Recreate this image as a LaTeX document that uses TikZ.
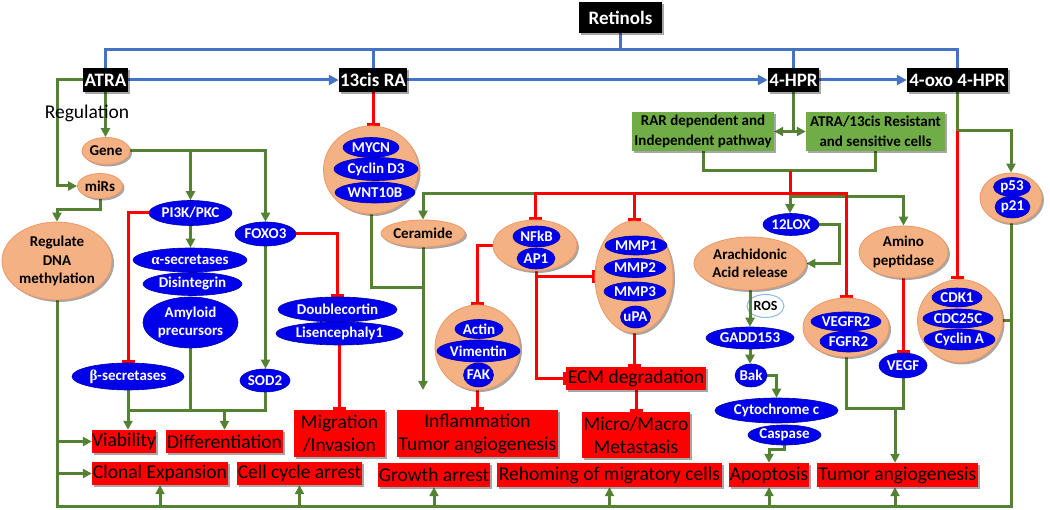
\documentclass[tikz,border=0pt]{standalone}
\usepackage{fontspec}
\setmainfont{Carlito}
\newfontfamily\grk{Liberation Serif}
\usetikzlibrary{arrows.meta,shapes.geometric,shadows}
\pgfdeclarelayer{bgw}
\pgfdeclarelayer{bg}
\pgfsetlayers{bgw,bg,main}
\definecolor{lb}{RGB}{68,114,196}
\definecolor{lg}{RGB}{84,130,53}
\definecolor{boxg}{RGB}{112,173,71}
\definecolor{salm}{RGB}{244,177,131}
\definecolor{salmd}{RGB}{238,152,102}
\definecolor{ovb}{RGB}{0,0,235}
\definecolor{ovbd}{RGB}{0,0,170}
\definecolor{rosb}{RGB}{140,185,225}
\definecolor{rr}{RGB}{255,0,0}
\newcommand\SOV[5]{\node[sov,minimum width=#3pt,minimum height=#4pt,label={[stx]center:{#5}}] (#1) at #2 {};}
\newcommand\BOV[5]{\node[bov,minimum width=#3pt,minimum height=#4pt,label={[btx]center:{#5}}] (#1) at #2 {};}
\tikzset{
  shad/.style={drop shadow={shadow xshift=2pt,shadow yshift=-2pt,opacity=0.35,fill=black}},
  blk/.style={rectangle,fill=black,text=white,font=\fontsize{19}{21}\selectfont\bfseries,inner sep=0pt,shad},
  gbx/.style={rectangle,fill=boxg,text=black,font=\fontsize{15}{20}\selectfont\bfseries,align=center,inner sep=0pt,shad},
  rbx/.style={rectangle,fill=rr,text=black,font=\fontsize{19.5}{23}\selectfont,align=center,inner sep=0pt,shad},
  sov/.style={ellipse,fill=salm,draw=salmd,line width=0.8pt,inner sep=0pt,shad},
  bov/.style={ellipse,fill=ovb,draw=ovbd,line width=0.6pt,inner sep=0pt},
  stx/.style={text=black,font=\fontsize{15}{18.5}\selectfont\bfseries,align=center},
  btx/.style={text=white,font=\fontsize{15}{18}\selectfont\bfseries,align=center},
  bl/.style={draw=lb,line width=3pt},
  gl/.style={draw=lg,line width=3pt},
  rl/.style={draw=rr,line width=3pt},
  ba/.style={-{Triangle[length=10pt,width=10pt]}},
  ga/.style={-{Triangle[length=9pt,width=9pt]}},
  rT/.style={-{Bar[width=13pt]}}
}
\begin{document}
\begin{tikzpicture}[x=1pt,y=-1pt]
\useasboundingbox (0,0) rectangle (1050,510);
\begin{pgfonlayer}{bgw}
\fill[white] (0,0) rectangle (1050,510);
\end{pgfonlayer}

% black boxes
\node[blk,minimum width=83pt,minimum height=31pt] (ret) at (620.5,17.5) {Retinols};
\node[blk,minimum width=45pt,minimum height=24pt] (atra) at (105.5,80) {ATRA};
\node[blk,minimum width=68pt,minimum height=24pt] (cis) at (373,80) {13cis RA};
\node[blk,minimum width=51pt,minimum height=24pt] (hpr) at (793.5,80) {4-HPR};
\node[blk,minimum width=101pt,minimum height=24pt] (oxo) at (957.5,80) {4-oxo 4-HPR};

% green boxes
\node[gbx,minimum width=142pt,minimum height=39pt] (rar) at (703,131.5) {RAR dependent and\\Independent pathway};
\node[gbx,minimum width=139pt,minimum height=39pt] (res) at (875.5,131.5) {ATRA/13cis Resistant\\and sensitive cells};

\node[font=\fontsize{19.5}{22}\selectfont,text=black] (reg) at (87,113) {Regulation};

% salmon ovals
\SOV{gene}{(106,151)}{48}{27}{Gene}
\SOV{mirs}{(100,186)}{45}{25}{miRs}
\SOV{regdna}{(57,261)}{110}{78}{Regulate\\DNA\\methylation}
\SOV{cisc}{(371,170)}{95}{88}{}
\SOV{cer}{(423,233.5)}{84}{27}{Ceramide}
\SOV{nfc}{(535,245.5)}{84}{51}{}
\SOV{actc}{(477.5,347.5)}{85}{85}{}
\SOV{mmpc}{(634,277)}{78}{112}{}
\SOV{arach}{(750,263.5)}{112}{53}{Arachidonic\\Acid release}
\SOV{amino}{(903.5,252)}{89}{52}{Amino\\peptidase}
\SOV{vegc}{(846,327.5)}{86}{59}{}
\SOV{cdkc}{(960,321)}{85}{83}{}
\SOV{p53c}{(1011,198)}{62}{50}{}

% blue ovals
\BOV{pi3k}{(190.5,213)}{83}{25}{PI3K/PKC}
\BOV{foxo}{(265.5,234)}{61}{24}{FOXO3}
\BOV{alpha}{(190,260)}{114}{24}{{\grk α}-secretases}
\BOV{disint}{(192.5,284)}{99}{23}{Disintegrin}
\BOV{amyl}{(190.5,322.5)}{95}{51}{Amyloid\\precursors}
\BOV{beta}{(128,376.5)}{112}{27}{{\grk β}-secretases}
\BOV{sod}{(265,380.5)}{50}{23}{SOD2}
\BOV{dcx}{(337.5,309.5)}{119}{25}{Doublecortin}
\BOV{lis}{(339.5,333.5)}{127}{23}{Lisencephaly1}
\BOV{mycn}{(371,147.5)}{56}{20}{MYCN}
\BOV{cyc}{(376,169)}{84}{23}{Cyclin D3}
\BOV{wnt}{(375,192.5)}{80}{21}{WNT10B}
\BOV{nfkb}{(536.5,236.5)}{47}{21}{NFkB}
\BOV{ap1}{(536,258.5)}{38}{21}{AP1}
\BOV{actin}{(479,329)}{48}{19}{Actin}
\BOV{vim}{(478.5,351)}{83}{22}{Vimentin}
\BOV{fak}{(478.5,375)}{30}{24}{FAK}
\BOV{mmp1}{(636,245.5)}{62}{19}{MMP1}
\BOV{mmp2}{(635,268)}{62}{19}{MMP2}
\BOV{mmp3}{(635,291.5)}{62}{19}{MMP3}
\BOV{upa}{(635.5,317)}{30}{22}{uPA}
\BOV{lox}{(791,224.5)}{56}{22}{12LOX}
\BOV{gadd}{(750,338)}{88}{22}{GADD153}
\BOV{bak}{(751,375.5)}{32}{23}{Bak}
\BOV{cyto}{(776.5,410.5)}{123}{25}{Cytochrome c}
\BOV{casp}{(784.5,435)}{73}{20}{Caspase}
\BOV{vegfr}{(846,321.5)}{70}{19}{VEGFR2}
\BOV{fgfr}{(848.5,341.5)}{57}{21}{FGFR2}
\BOV{vegf}{(903,365.5)}{48}{25}{VEGF}
\BOV{cdk1}{(957,297.5)}{50}{19}{CDK1}
\BOV{cdc}{(958,318.5)}{70}{19}{CDC25C}
\BOV{cyca}{(959.5,339.5)}{71}{21}{Cyclin A}
\BOV{p53}{(1012,187)}{37}{19}{p53}
\BOV{p21}{(1012.5,207)}{35}{22}{p21}

% red boxes
\node[rbx,minimum width=64pt,minimum height=23pt] (via) at (124,441.5) {Viability};
\node[rbx,minimum width=117pt,minimum height=23pt] (diff) at (224.5,441.5) {Differentiation};
\node[rbx,minimum width=91pt,minimum height=47pt] (mig) at (339.5,433.5) {Migration\\/Invasion};
\node[rbx,minimum width=161pt,minimum height=47pt] (infl) at (477.5,433.5) {Inflammation\\Tumor angiogenesis};
\node[rbx,minimum width=140pt,minimum height=23pt] (ecm) at (636,378.5) {ECM degradation};
\node[rbx,minimum width=108pt,minimum height=46pt] (micro) at (636,435) {Micro/Macro\\Metastasis};
\node[rbx,minimum width=136pt,minimum height=23pt] (clon) at (160,473.5) {Clonal Expansion};
\node[rbx,minimum width=125pt,minimum height=23pt] (cca) at (299.5,473.5) {Cell cycle arrest};
\node[rbx,minimum width=112pt,minimum height=24pt] (grow) at (434,475) {Growth arrest};
\node[rbx,minimum width=225pt,minimum height=24pt] (rehom) at (609.5,475) {Rehoming of migratory cells};
\node[rbx,minimum width=80pt,minimum height=24pt] (apop) at (769,475) {Apoptosis};
\node[rbx,minimum width=161pt,minimum height=24pt] (tang) at (897.5,475) {Tumor angiogenesis};

\begin{pgfonlayer}{bg}
\node[ellipse,fill=white,draw=rosb,line width=1pt,minimum width=37pt,minimum height=23pt,inner sep=0pt,font=\fontsize{14}{16}\selectfont\bfseries] (ros) at (765.5,306) {ROS};
% blue
\draw[bl] (atra.north) |- (oxo.north |- 0,50) -- (oxo.north);
\draw[bl] (ret.south) -- (ret.south |- 0,50);
\draw[bl] (cis.north) -- (cis.north |- 0,50);
\draw[bl] (hpr.north) -- (hpr.north |- 0,50);
\draw[bl,ba] (atra.east) -- (cis.west);
\draw[bl,ba] (cis.east) -- (hpr.west);
\draw[bl,ba] (hpr.east) -- (oxo.west);
% ATRA branch
\draw[gl,ga] (atra.west) -- ++(-25,0) |- (mirs.west);
\draw[gl,ga] (atra.south) -- (atra.south |- gene.north);
\draw[gl,ga] (gene.east) -| (foxo.north);
\draw[gl,ga] (pi3k.north |- gene.east) -- (pi3k.north);
\draw[gl,ga] (mirs.south) -- (mirs.south |- 0,210) -| (regdna.north);
\draw[gl,ga] (pi3k.south) -- (pi3k.south |- alpha.north);
\draw[rl,rT] (pi3k.west) -| (beta.north);
\draw[gl,ga] (foxo.south) -- (foxo.south |- sod.north);
\draw[rl,rT] (foxo.east) -| (dcx.north);
\draw[rl,rT] (lis.south) -- (lis.south |- mig.north);
\draw[gl,ga] (beta.south) -- (beta.south |- via.north);
\draw[gl] (amyl.south) -- (amyl.south |- 0,411);
\draw[gl] (beta.south |- 0,411) -- (sod.south |- 0,411) -- (sod.south);
\draw[gl,ga] (diff.north |- 0,411) -- (diff.north);
% bottom collector
\draw[gl] (regdna.south) |- (p53c.south |- 0,506) -- (p53c.south);
\draw[gl] (cdkc.east) -- (p53c.south |- cdkc.east);
\draw[gl,ga] (regdna.south |- via.west) -- (via.west);
\draw[gl,ga] (regdna.south |- clon.west) -- (clon.west);
\foreach \n in {clon,cca,grow,rehom,apop}{
  \draw[gl,ga] (\n.south |- 0,506) -- (\n.south);
}
\draw[gl,ga] (895,506) -- (tang.south -| 895,0);
% 4-HPR
\draw[gl] (hpr.south) -- (hpr.south |- rar.east);
\draw[gl,{Triangle[length=9pt,width=9pt]}-{Triangle[length=9pt,width=9pt]}] (rar.east) -- (res.west);
\draw[gl] (rar.south) -- (rar.south |- 0,171) -| (res.south);
\coordinate (hub) at (790,171);
\coordinate (hubr) at (790,194);
\draw[gl,ga] (534,194) -- (cer.north |- hubr) -- (cer.north);
\draw[gl,ga] (hubr) -- (hubr |- lox.north);
\draw[gl,ga] (790,197) -| (amino.north);
\draw[rl] (hub) -- (hubr) -- (534,194);
\draw[rl,rT] (nfc.north |- hubr) -- (nfc.north);
\draw[rl,rT] (mmpc.north |- hubr) -- (mmpc.north);
\draw[rl,rT] (hubr) -| (vegc.north);
\draw[gl,ga] (lox.east) -- ++(20,0) |- (arach.east);
\draw[gl,ga] (arach.south) -- (arach.south |- gadd.north);
\draw[gl,ga] (gadd.south) -- (gadd.south |- bak.north);
\draw[gl,ga] (bak.east) -| (cyto.north);
\draw[gl,ga] (casp.south) -- ++(0,4) -| (apop.north);
% 13cis RA
\draw[rl,rT] (cis.south) -- (cis.south |- cisc.north);
\draw[gl] (cisc.south) -- (cisc.south |- 0,288) -- (cer.south |- 0,288);
\draw[gl,ga] (cer.south) -- (cer.south |- 0,390);
\draw[rl,rT] (nfc.west) -| (actc.north);
\draw[rl,rT] (ap1.south) -- (ap1.south |- 0,378.5) -- (ecm.west);
\draw[rl,rT] (ap1.south |- 0,277) -- (mmpc.west);
\draw[rl,rT] (actc.south) -- (infl.north);
\draw[rl,rT] (mmpc.south) -- (mmpc.south |- ecm.north);
\draw[rl,rT] (ecm.south) -- (micro.north);
\draw[rl,rT] (amino.south) -- (amino.south |- vegf.north);
\draw[gl] (vegc.south) -- (vegc.south |- 0,409) -- (vegf.south |- 0,409) -- (vegf.south);
\draw[gl,ga] (895,409) -- (tang.north -| 895,0);
% 4-oxo
\draw[gl,ga] (oxo.south) -- (oxo.south |- 0,131) -| (p53c.north);
\draw[rl,rT] (oxo.south |- 0,131) -- (oxo.south |- cdkc.north);
\end{pgfonlayer}
\end{tikzpicture}
\end{document}
